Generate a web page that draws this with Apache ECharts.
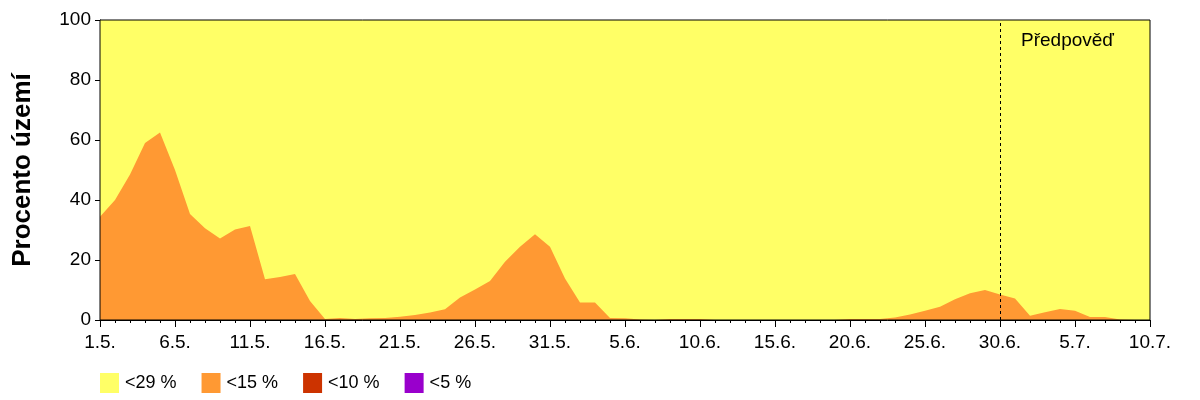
<!DOCTYPE html>
<html>
<head>
<meta charset="utf-8">
<script src="https://cdn.jsdelivr.net/npm/echarts@6/dist/echarts.min.js"></script>
<style>html,body{margin:0;padding:0;background:#fff;}#c{width:1200px;height:400px;}</style>
</head>
<body>
<div id="c"></div>
<script>
const dates = ["1.5.","2.5.","3.5.","4.5.","5.5.","6.5.","7.5.","8.5.","9.5.","10.5.",
"11.5.","12.5.","13.5.","14.5.","15.5.","16.5.","17.5.","18.5.","19.5.","20.5.",
"21.5.","22.5.","23.5.","24.5.","25.5.","26.5.","27.5.","28.5.","29.5.","30.5.","31.5.",
"1.6.","2.6.","3.6.","4.6.","5.6.","6.6.","7.6.","8.6.","9.6.","10.6.",
"11.6.","12.6.","13.6.","14.6.","15.6.","16.6.","17.6.","18.6.","19.6.","20.6.",
"21.6.","22.6.","23.6.","24.6.","25.6.","26.6.","27.6.","28.6.","29.6.","30.6.",
"1.7.","2.7.","3.7.","4.7.","5.7.","6.7.","7.7.","8.7.","9.7.","10.7."];

const below29 = [100,100,100,100,100,100,100,100,100,100,
100,100,100,100,100,100,100,100,100,100,
100,100,100,100,100,100,100,100,100,100,
100,100,100,100,100,100,100,100,100,100,
100,100,100,100,100,100,100,100,100,100,
100,100,100,100,100,100,100,100,100,100,
100,100,100,100,100,100,100,100,100,100,100];

const below15 = [34.4,40,48.5,59,62.5,50,35.3,30.6,27.2,30.2,
31.3,13.6,14.3,15.3,6.3,0.3,0.7,0.3,0.6,0.7,
1.1,1.7,2.5,3.6,7.5,10.2,13.0,19.4,24.4,28.6,
24.4,13.8,5.8,5.8,0.7,0.6,0.2,0,0.3,0.3,
0.3,0,0,0,0,0,0,0,0,0,
0.3,0.3,0.3,0.8,1.8,3.1,4.4,6.9,8.9,10,
8.5,7.2,1.4,2.6,3.7,3.1,1.0,1.0,0.2,0,0];

const below10 = [0,0,0,0,0,0,0,0,0,0,0,0,0,0,0,0,0,0,0,0,0,0,0,0,0,0,0,0,0,0,0,0,0,0,0,0,
0,0,0,0,0,0,0,0,0,0,0,0,0,0,0,0,0,0,0,0,0,0,0,0,0,0,0,0,0,0,0,0,0,0,0];
const below5 = [0,0,0,0,0,0,0,0,0,0,0,0,0,0,0,0,0,0,0,0,0,0,0,0,0,0,0,0,0,0,0,0,0,0,0,0,
0,0,0,0,0,0,0,0,0,0,0,0,0,0,0,0,0,0,0,0,0,0,0,0,0,0,0,0,0,0,0,0,0,0,0];

const seriesNames = ["<29 %","<15 %","<10 %","<5 %"];
const seriesColors = ["#FFFF66","#FF9933","#CC3300","#9900CC"];
const seriesData = [below29, below15, below10, below5];
const forecastIndex = 60;
const forecastLabel = "Předpověď";
const yTicks = [0,20,40,60,80,100];

const FONT = "Liberation Sans";
const chart = echarts.init(document.getElementById('c'), null, {renderer:'canvas'});

const series = seriesData.map((arr, k) => ({
  name: seriesNames[k],
  type: 'line',
  data: arr.map((v,i)=>[i,v]),
  showSymbol: false,
  symbol: 'none',
  lineStyle: {width: 0},
  itemStyle: {color: seriesColors[k]},
  areaStyle: {color: seriesColors[k], opacity: 1},
  silent: true,
  animation: false,
  z: 2 + k
}));
series[1].markLine = {
  silent: true,
  symbol: ['none','none'],
  label: {show: false},
  lineStyle: {color: '#000', type: [3,3], width: 1},
  data: [{xAxis: forecastIndex}],
  animation: false
};

chart.setOption({
  animation: false,
  textStyle: {fontFamily: FONT},
  grid: {left: 100, right: 50, top: 20, bottom: 80, show: true, borderColor: '#000', borderWidth: 1, backgroundColor: 'transparent', z: 20},
  legend: {
    left: 100, top: 373, padding: 0,
    itemWidth: 19, itemHeight: 20, itemGap: 25,
    icon: 'rect',
    textStyle: {fontFamily: FONT, fontSize: 18, color: '#000', padding: [0,0,0,1]},
    data: seriesNames
  },
  xAxis: {
    type: 'value', min: 0, max: dates.length - 1, interval: 5,
    axisLine: {show: true, lineStyle: {color: '#000', width: 1}},
    axisTick: {show: true, length: 7, lineStyle: {color: '#000'}},
    minorTick: {show: true, splitNumber: 5, length: 3, lineStyle: {color: '#000'}},
    splitLine: {show: false},
    axisLabel: {
      fontFamily: FONT, fontSize: 19, color: '#000', margin: 13,
      formatter: v => dates[v] || ''
    }
  },
  yAxis: {
    type: 'value', min: yTicks[0], max: yTicks[yTicks.length-1], interval: 20,
    name: 'Procento území',
    nameLocation: 'middle', nameGap: 64,
    nameTextStyle: {fontFamily: FONT, fontSize: 26, fontWeight: 'bold', color: '#000'},
    axisLine: {show: true, lineStyle: {color: '#000', width: 1}},
    axisTick: {show: true, length: 5, lineStyle: {color: '#000'}},
    splitLine: {show: false},
    axisLabel: {fontFamily: FONT, fontSize: 19, color: '#000', margin: 9}
  },
  graphic: [{
    type: 'text', left: 1021, top: 31, z: 100,
    style: {text: forecastLabel, fontFamily: FONT, fontSize: 19, fill: '#000'}
  }],
  series: series
});
</script>
</body>
</html>
